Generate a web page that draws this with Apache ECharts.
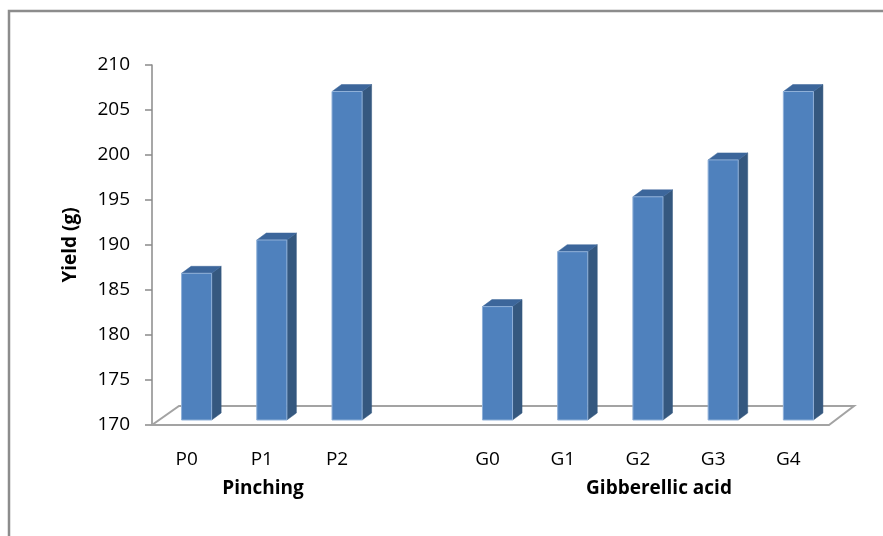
<!DOCTYPE html>
<html>
<head>
<meta charset="utf-8">
<script src="https://cdn.jsdelivr.net/npm/echarts@6/dist/echarts.min.js"></script>
<style>
  html, body { margin: 0; padding: 0; background: #fff; }
  #chart { width: 883px; height: 536px; }
</style>
</head>
<body>
<div id="chart"></div>
<script>
// Treatment categories (blank slot separates the two treatment groups)
const categories = ['P0', 'P1', 'P2', '', 'G0', 'G1', 'G2', 'G3', 'G4'];
// Yield in grams per treatment (null for the spacer slot)
const yieldValues = [186.3, 190.0, 206.5, null, 182.6, 188.7, 194.8, 198.9, 206.5];
// Value axis range and step
const yMin = 170;
const yMax = 210;
const yStep = 5;
// Group captions under the category labels
const groupNames = ['Pinching', 'Gibberellic acid'];

const FONT = '"Open Sans", Lato, sans-serif';

// depth projection of the floor and of the columns (pixels)
const FLOOR_DX = 25, FLOOR_DY = -19;
const BAR_OFF_X = 7, BAR_OFF_Y = -5;
const BAR_DX = 9.5, BAR_DY = -7;

const barData = [];
categories.forEach((c, i) => {
  if (yieldValues[i] != null) barData.push([i, yieldValues[i]]);
});

function renderFloor(params, api) {
  const band = api.size([1, 0])[0];
  const first = api.coord([0, yMin]);
  const last = api.coord([categories.length - 1, yMin]);
  const xl = first[0] - band / 2;
  const xr = last[0] + band / 2;
  const y = first[1];
  return {
    type: 'polygon',
    shape: { points: [[xl, y], [xr, y], [xr + FLOOR_DX, y + FLOOR_DY], [xl + FLOOR_DX + 2, y + FLOOR_DY]] },
    style: { fill: '#ffffff', stroke: '#a3a3a3', lineWidth: 2 }
  };
}

function renderColumn(params, api) {
  const idx = api.value(0);
  const val = api.value(1);
  const base = api.coord([idx, yMin]);
  const top = api.coord([idx, val]);
  const band = api.size([1, 0])[0];
  const w = band * 0.4;
  const x0 = base[0] - w / 2 + BAR_OFF_X;
  const x1 = x0 + w;
  const yb = base[1] + BAR_OFF_Y;
  const yt = top[1] + BAR_OFF_Y;
  return {
    type: 'group',
    children: [
      {
        type: 'polygon',
        shape: { points: [[x1, yb], [x1 + BAR_DX, yb + BAR_DY], [x1 + BAR_DX, yt + BAR_DY], [x1, yt]] },
        style: { fill: '#35587f', stroke: '#35587f', lineWidth: 0.5 }
      },
      {
        type: 'polygon',
        shape: { points: [[x0, yt], [x1, yt], [x1 + BAR_DX, yt + BAR_DY], [x0 + BAR_DX, yt + BAR_DY]] },
        style: { fill: '#3c669b', stroke: '#3c669b', lineWidth: 0.5 }
      },
      {
        type: 'rect',
        shape: { x: x0, y: yt, width: w, height: yb - yt },
        style: { fill: '#4f81bd', stroke: '#8fb0d8', lineWidth: 1 }
      }
    ]
  };
}

const chart = echarts.init(document.getElementById('chart'), null, { renderer: 'canvas' });
chart.setOption({
  backgroundColor: '#ffffff',
  animation: false,
  grid: { left: 152, top: 65, width: 677, height: 360 },
  xAxis: {
    type: 'category',
    data: categories,
    axisLine: { show: false },
    axisTick: { show: false },
    splitLine: { show: false },
    axisLabel: {
      margin: 25,
      color: '#000',
      fontFamily: FONT,
      fontSize: 19,
      padding: [0, 6, 0, 0],
      interval: 0
    }
  },
  yAxis: {
    type: 'value',
    min: yMin,
    max: yMax,
    interval: yStep,
    name: 'Yield (g)',
    nameLocation: 'middle',
    nameRotate: 90,
    nameGap: 72,
    nameTextStyle: { color: '#000', fontFamily: FONT, fontSize: 19, fontWeight: 'bold' },
    axisLine: { show: true, lineStyle: { color: '#8a8a8a', width: 1.5 } },
    axisTick: { show: true, inside: false, length: 7, lineStyle: { color: '#8a8a8a', width: 1.5 } },
    splitLine: { show: false },
    axisLabel: { margin: 22, color: '#000', fontFamily: FONT, fontSize: 19 }
  },
  series: [
    {
      type: 'custom',
      name: 'floor',
      renderItem: renderFloor,
      data: [[0, yMin]],
      encode: { x: 0, y: 1 },
      z: 1,
      silent: true
    },
    {
      type: 'custom',
      name: 'Yield (g)',
      renderItem: renderColumn,
      data: barData,
      encode: { x: 0, y: 1 },
      z: 2
    }
  ],
  graphic: [
    {
      type: 'rect',
      shape: { x: 9, y: 11, width: 900, height: 600 },
      style: { fill: 'none', stroke: '#8c8c8c', lineWidth: 2.5 },
      silent: true,
      z: 0
    },
    {
      type: 'text',
      x: 263, y: 489,
      style: { text: groupNames[0], fill: '#000', font: 'bold 19px ' + FONT, align: 'center', verticalAlign: 'middle' }
    },
    {
      type: 'text',
      x: 659, y: 489,
      style: { text: groupNames[1], fill: '#000', font: 'bold 19px ' + FONT, align: 'center', verticalAlign: 'middle' }
    }
  ]
});
</script>
</body>
</html>
